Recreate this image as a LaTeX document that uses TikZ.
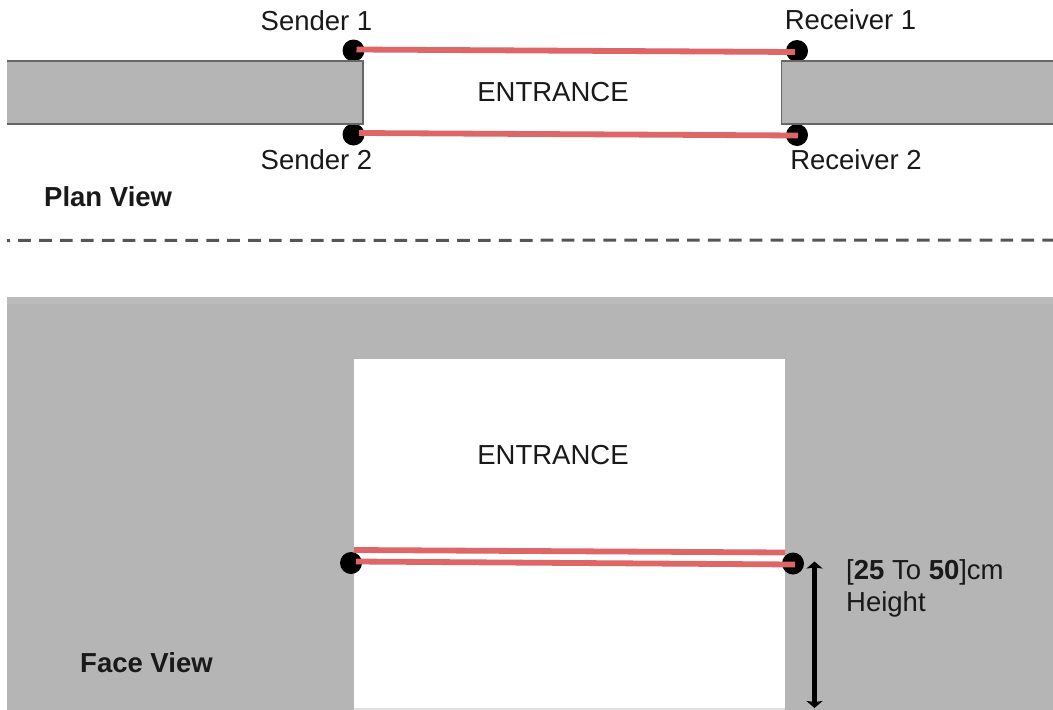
\documentclass[tikz,border=0pt]{standalone}
\usepackage{fontspec}
\setmainfont{Liberation Sans}
\usetikzlibrary{arrows.meta}
\definecolor{wallgrey}{HTML}{B5B5B5}
\definecolor{wallstrip}{HTML}{BBBBBB}
\definecolor{wallline}{HTML}{666666}
\definecolor{beam}{HTML}{DE6666}
\definecolor{dashgrey}{HTML}{555555}
\tikzset{
  sensor/.style={circle,fill=black,draw=none,minimum size=22pt,inner sep=0pt},
  beamline/.style={draw=beam,line width=5.8pt},
  walledge/.style={draw=wallline,line width=1.3pt},
  lab/.style={font=\fontsize{27.5}{32}\selectfont,text=black!90,inner sep=0pt,anchor=base},
  title/.style={font=\fontsize{27.5}{32}\selectfont\bfseries,text=black!90,inner sep=0pt,anchor=base west},
}
\begin{document}
\begin{tikzpicture}[x=1pt,y=-1pt]
\useasboundingbox (0,0) rectangle (1053,710);
\fill[white] (0,0) rectangle (1053,710);
% plan view
\node[sensor] (s1) at (353.5,50.5) {};
\node[sensor] (s2) at (353.5,134.5) {};
\node[sensor] (r1) at (797,51) {};
\node[sensor] (r2) at (797,135) {};
\fill[wallgrey] (7,61) rectangle (363,124);
\draw[walledge] (7,61) -- (363,61) -- (363,124) -- (7,124);
\fill[wallgrey] (781.5,61) rectangle (1053,124);
\draw[walledge] (1053,61) -- (781.5,61) -- (781.5,124) -- (1053,124);
\coordinate (b1a) at (356.5,49.5);
\coordinate (b1b) at (795,52);
\coordinate (b2a) at (359,133);
\coordinate (b2b) at (798,135.5);
\draw[beamline] (b1a) -- (b1b);
\draw[beamline] (b2a) -- (b2b);
\node[lab] (sender1) at (316.5,30.5) {Sender 1};
\node[lab] (sender2) at (316.5,169.5) {Sender 2};
\node[lab] (recv1) at (850.5,29.5) {Receiver 1};
\node[lab] (recv2) at (856,169.5) {Receiver 2};
\node[lab] (ent1) at (553,101) {ENTRANCE};
\node[title] (plan) at (44,206) {Plan View};
% divider
\coordinate (da) at (7,240.5);
\coordinate (db) at (1053,240);
\draw[dashgrey,line width=3pt,dash pattern=on 12.7pt off 8.2pt,dash phase=9.7pt] (da) -- (db);
% face view
\fill[wallgrey] (7,297) rectangle (1053,710);
\fill[wallstrip] (7,297) rectangle (1053,304);
\fill[white] (354,359) rectangle (785,707.5);
\fill[black!12] (354,707.5) rectangle (785,710);
\node[sensor] (fs) at (351,563) {};
\node[sensor] (fr) at (793,563.5) {};
\coordinate (f1a) at (354,550);
\coordinate (f1b) at (785,552.5);
\coordinate (f2a) at (356,561.5);
\coordinate (f2b) at (795,564.5);
\draw[beamline] (f1a) -- (f1b);
\draw[beamline] (f2a) -- (f2b);
\node[lab] (ent2) at (553,464) {ENTRANCE};
\coordinate (ha) at (814.5,561.5);
\coordinate (hb) at (814.5,708);
\draw[line width=5pt,{Stealth[length=7pt,width=16pt,inset=1pt]}-{Stealth[length=7pt,width=16pt,inset=1pt]}] (ha) -- (hb);
\node[lab,anchor=base west] (h1) at (846,579) {[\textbf{25} To \textbf{50}]cm};
\node[lab,anchor=base west] (h2) at (846,611) {Height};
\node[title] (face) at (80,672) {Face View};
\end{tikzpicture}
\end{document}
